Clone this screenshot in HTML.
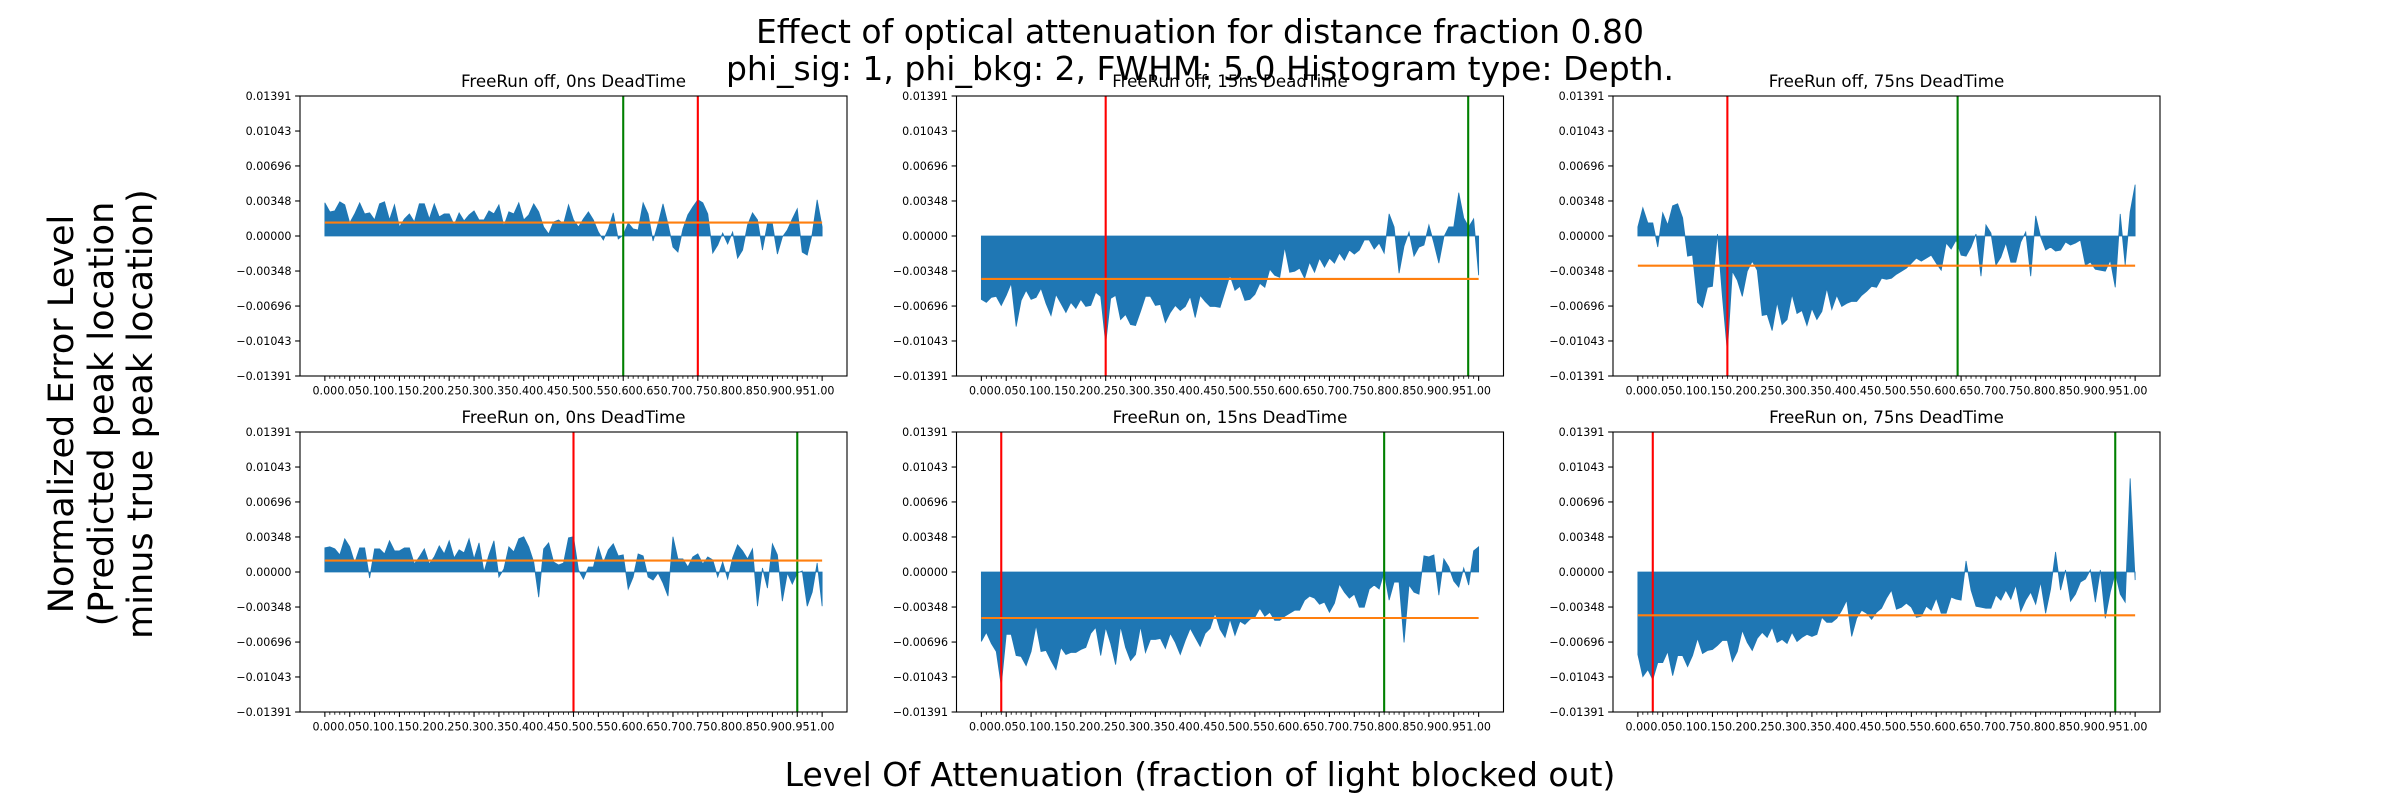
<!DOCTYPE html>
<html><head><meta charset="utf-8">
<style>
html,body{margin:0;padding:0;background:#fff;}
svg{display:block;font-family:"DejaVu Sans","Liberation Sans",sans-serif;}
</style></head>
<body>
<svg id="fig" width="2400" height="800" viewBox="0 0 2400 800" xmlns="http://www.w3.org/2000/svg">
<rect width="2400" height="800" fill="#fff"/>
<text x="1200" y="43" font-size="33" text-anchor="middle">Effect of optical attenuation for distance fraction 0.80</text>
<text x="1200" y="80" font-size="33" text-anchor="middle">phi_sig: 1, phi_bkg: 2, FWHM: 5.0 Histogram type: Depth.</text>
<g font-size="35" text-anchor="middle">
<text transform="translate(73,414) rotate(-90)">Normalized Error Level</text>
<text transform="translate(113,414) rotate(-90)">(Predicted peak location</text>
<text transform="translate(152,414) rotate(-90)">minus true peak location)</text>
</g>
<text x="1200" y="786" font-size="33" text-anchor="middle">Level Of Attenuation (fraction of light blocked out)</text>
<g id="plots"></g>
</svg>
<script>
// values in units of 1e-3
const titles = ["FreeRun off, 0ns DeadTime","FreeRun off, 15ns DeadTime","FreeRun off, 75ns DeadTime","FreeRun on, 0ns DeadTime","FreeRun on, 15ns DeadTime","FreeRun on, 75ns DeadTime"];
const seriesOff0 = [3.3,2.4,2.5,3.4,3.1,1.3,2.2,3.3,2.2,2.3,1.6,3.2,3.4,1.6,3.1,0.9,1.7,2.2,1.4,3.2,3.2,1.7,3.2,1.9,2.2,2.2,1.1,2.3,1.5,2.1,2.5,1.6,1.6,2.5,2.2,3.1,1.0,2.4,2.2,3.3,1.6,2.1,3.2,2.4,0.9,0.2,1.4,1.6,1.2,3.1,1.6,0.9,1.7,2.4,1.6,0.4,-0.4,0.7,2.3,-0.3,0.1,1.3,0.7,0.6,3.3,2.2,-0.5,1.2,3.2,1.2,-1.1,-1.6,0.7,2.1,2.9,3.6,3.3,2.2,-1.7,-0.9,0.3,-0.8,0.4,-2.2,-1.4,1.1,2.3,1.6,-1.4,1.2,1.2,-1.8,-0.1,0.6,1.7,2.7,-1.6,-1.9,0.2,3.6,0.9];
const seriesOff15 = [-6.3,-6.6,-6.1,-6.0,-6.9,-5.9,-4.7,-9.0,-6.4,-5.4,-6.3,-6.1,-5.2,-6.7,-7.9,-5.8,-6.7,-7.6,-6.6,-7.2,-6.3,-7.0,-6.9,-5.6,-6.0,-10.7,-6.2,-5.9,-8.3,-7.8,-8.8,-8.9,-7.5,-6.0,-6.0,-6.9,-6.8,-8.6,-7.6,-6.9,-7.4,-7.0,-6.0,-8.1,-5.9,-6.5,-7.0,-7.0,-7.1,-5.5,-3.9,-5.4,-5.0,-6.4,-6.3,-5.8,-4.7,-5.1,-3.3,-3.9,-4.1,-1.1,-3.6,-3.5,-3.2,-4.2,-2.6,-3.6,-2.2,-3.1,-2.2,-2.7,-1.7,-2.4,-1.4,-1.8,-1.4,-0.4,-0.4,-1.3,-0.7,-1.7,2.2,0.9,-3.7,-1.0,0.4,-2.0,-1.1,-0.9,1.1,-0.7,-2.7,-0.1,0.9,0.9,4.3,1.8,0.9,1.7,-3.9];
const seriesOff75 = [0.9,2.8,1.3,1.3,-1.1,2.3,1.1,3.0,3.2,1.8,-2.0,-1.9,-6.6,-7.1,-5.1,-5.0,0.2,-6.0,-11.5,-3.5,-4.4,-6.0,-3.5,-2.5,-3.4,-7.9,-7.8,-9.4,-6.6,-8.8,-8.3,-5.8,-7.7,-7.4,-8.9,-7.2,-8.3,-7.5,-5.2,-7.3,-5.9,-7.0,-6.7,-6.5,-6.5,-5.9,-5.5,-5.0,-5.1,-4.2,-4.3,-4.2,-3.8,-3.5,-3.2,-2.7,-2.2,-2.5,-2.2,-1.9,-2.7,-3.4,-0.7,-1.3,-0.4,-1.9,-2.0,-1.1,0.2,-4.0,1.1,0.3,-2.9,-2.1,-0.7,-2.6,-2.6,-0.6,0.4,-4.0,2.0,-0.1,-1.4,-1.1,-1.5,-1.4,-0.6,-0.9,-0.7,-0.4,-2.9,-2.6,-3.3,-3.4,-3.5,-2.4,-5.1,2.2,-2.9,2.4,5.1];
const seriesOn0 = [2.4,2.5,2.3,1.7,3.3,2.5,0.9,2.4,2.4,-0.6,2.3,2.3,1.8,3.1,2.1,2.1,2.4,2.4,0.8,1.5,2.3,0.8,1.5,2.6,1.8,3.1,1.4,2.2,1.9,3.3,1.3,2.9,0,1.7,3.1,-0.5,0.3,2.5,2.0,3.3,3.5,2.5,1.0,-2.5,2.3,2.9,1.0,0.7,0.9,3.4,3.5,0.2,-0.7,0.5,0.5,2.5,0.9,2.2,2.8,1.6,1.7,-1.7,-0.5,1.8,1.6,-0.5,-0.8,-0.1,-1.1,-2.4,3.5,1.3,1.3,0.5,1.5,1.8,0.8,1.5,1.2,-0.5,1.0,-0.7,1.4,2.7,2.1,1.3,2.3,-3.4,0.4,-1.6,2.8,1.7,-2.9,-0.1,-1.2,-0.1,0.1,-3.4,-2.0,0.9,-3.4];
const seriesOn15 = [-6.9,-6.0,-7.1,-7.9,-11.3,-6.2,-6.2,-8.3,-8.4,-9.3,-7.9,-5.3,-7.9,-7.8,-8.8,-9.7,-7.5,-8.2,-8.0,-8.0,-7.7,-7.5,-6.1,-5.5,-8.3,-5.5,-7.1,-9.2,-5.4,-7.5,-8.8,-8.2,-5.4,-8.0,-6.7,-6.7,-6.6,-7.6,-6.1,-7.0,-8.2,-6.8,-5.6,-6.5,-7.4,-6.1,-5.6,-4.1,-5.7,-6.5,-4.7,-6.3,-4.9,-5.2,-4.7,-4.5,-3.6,-4.4,-4.0,-4.8,-4.8,-4.4,-4.1,-3.8,-3.8,-2.8,-2.4,-2.6,-3.2,-3.0,-4.0,-3.1,-1.2,-2.0,-2.6,-2.2,-3.5,-3.5,-1.7,-1.3,-1.7,0,-2.8,-1.0,-1.0,-7.0,-1.3,-2.0,-2.2,1.6,1.5,1.7,-2.3,1.3,0.5,-0.9,-1.5,0.4,-1.3,2.1,2.5];
const seriesOn75 = [-8.2,-10.4,-9.7,-10.7,-9.0,-9.0,-7.9,-10.3,-8.3,-8.3,-9.4,-8.3,-6.6,-8.1,-7.8,-7.7,-7.3,-6.8,-6.8,-8.9,-7.9,-5.8,-7.0,-7.8,-6.6,-6.0,-6.5,-5.5,-7.0,-6.7,-7.1,-6.0,-6.9,-6.5,-6.2,-6.4,-6.2,-4.5,-5.0,-5.0,-4.6,-3.8,-2.8,-6.4,-4.6,-3.8,-4.1,-4.7,-4.0,-3.6,-2.6,-1.8,-3.7,-3.5,-3.1,-3.5,-4.5,-4.4,-3.4,-3.8,-2.6,-4.1,-4.1,-2.5,-2.7,-2.8,1.1,-1.8,-3.4,-3.5,-3.6,-3.6,-2.3,-2.8,-1.8,-2.7,-1.3,-3.9,-2.8,-2.0,-3.2,-1.0,-4.1,-1.7,2.0,-1.8,0.2,-2.9,-2.2,-1.0,-0.7,0.2,-3.0,0.2,-4.6,-2.0,-0.1,-2.2,-3.0,9.3,-0.8];
const meanValues = [1.34,-4.27,-2.95,1.14,-4.57,-4.3];
const redLines = [0.75,0.25,0.18,0.50,0.04,0.03];
const greenLines = [0.60,0.979,0.643,0.95,0.81,0.96];
const yTicks = [-0.01391,-0.01043,-0.00696,-0.00348,0,0.00348,0.00696,0.01043,0.01391];
const xMajor = [0,0.05,0.1,0.15,0.2,0.25,0.3,0.35,0.4,0.45,0.5,0.55,0.6,0.65,0.7,0.75,0.8,0.85,0.9,0.95,1.0];
const allSeries = [seriesOff0,seriesOff15,seriesOff75,seriesOn0,seriesOn15,seriesOn75];

const NS="http://www.w3.org/2000/svg";
const root=document.getElementById('plots');
function mk(tag,attrs,parent){const e=document.createElementNS(NS,tag);for(const k in attrs)e.setAttribute(k,attrs[k]);parent.appendChild(e);return e;}
const lefts=[300,956.5,1613], tops=[96,432], W=547, H=280;
allSeries.forEach((vals,p)=>{
  const L=lefts[p%3], T=tops[Math.floor(p/3)];
  const g=mk('g',{},root);
  
  
  const xs=v=>L+(v+0.05)/1.1*W;
  const ys=v=>T+H-(v+0.01391)/0.02782*H;
  const n=vals.length;
  const xv=i=>i/(n-1);
  let d='M'+xs(0)+','+ys(0);
  vals.forEach((v,i)=>{d+=' L'+xs(xv(i)).toFixed(2)+','+ys(v/1000).toFixed(2);});
  d+=' L'+xs(1)+','+ys(0)+' Z';
  const area=mk('path',{d:d,fill:'#1f77b4',stroke:'#1f77b4','stroke-width':'0.8'},g);
  
  
  const red=mk('line',{x1:xs(redLines[p]),x2:xs(redLines[p]),y1:T,y2:T+H,stroke:'#ff0000','stroke-width':2.1},g);
  
  
  const green=mk('line',{x1:xs(greenLines[p]),x2:xs(greenLines[p]),y1:T,y2:T+H,stroke:'#008000','stroke-width':2.1},g);
  
  
  const mean=mk('line',{x1:xs(0),x2:xs(1),y1:ys(meanValues[p]/1000),y2:ys(meanValues[p]/1000),stroke:'#ff7f0e','stroke-width':2.1},g);
  
  
  const frame=mk('rect',{x:L,y:T,width:W,height:H,fill:'none',stroke:'#000','stroke-width':1.1},g);
  
  
  const t=mk('text',{x:L+W/2,y:T-9,'font-size':16.7,'text-anchor':'middle'},g);
  
  
  t.textContent=titles[p];
  yTicks.forEach(v=>{
    const y=ys(v);
    mk('line',{x1:L-4.9,x2:L,y1:y,y2:y,stroke:'#000','stroke-width':1.1},g);
    const lb=mk('text',{x:L-8.5,y:y+4,'font-size':11.1,'text-anchor':'end'},g);
    
    
    lb.textContent=(v<0?'\u2212':'')+Math.abs(v).toFixed(5);
  });
  for(let i=0;i<=100;i++){
    const x=xs(i/100);
    mk('line',{x1:x,x2:x,y1:T+H,y2:T+H+(i%5===0?4.9:2.8),stroke:'#000','stroke-width':(i%5===0?1.1:0.8)},g);
  }
  xMajor.forEach(v=>{
    const lb=mk('text',{x:xs(v),y:T+H+18.5,'font-size':11.1,'text-anchor':'middle'},g);
    
    
    lb.textContent=v.toFixed(2);
  });
});
</script>
</body></html>
